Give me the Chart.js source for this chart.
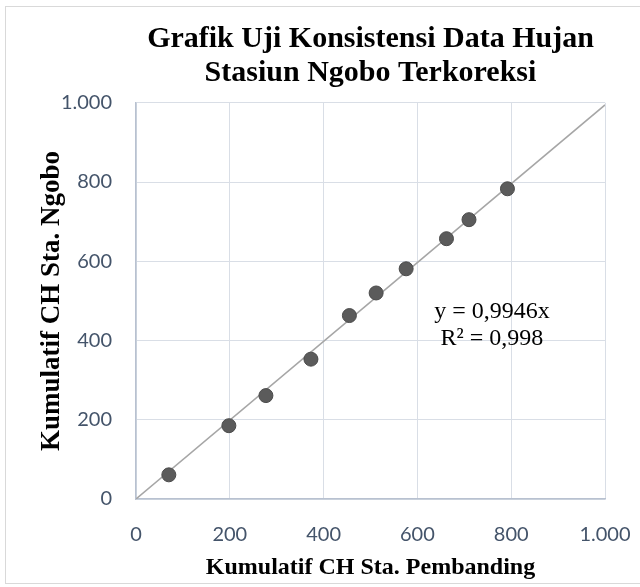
<!DOCTYPE html>
<html>
<head>
<meta charset="utf-8">
<script src="https://cdn.jsdelivr.net/npm/chart.js@4"></script>
<style>
  html, body { margin: 0; padding: 0; background: #fff; }
  #wrap { position: relative; width: 640px; height: 587px; }
  #frame { position: absolute; left: 5px; top: 6px; width: 640px; height: 578px; border: 1px solid #d9d9d9; box-sizing: border-box; pointer-events: none; }
  canvas { position: absolute; left: 0; top: 0; }
</style>
</head>
<body>
<div id="wrap">
  <canvas id="c" width="640" height="587"></canvas>
  <div id="frame"></div>
</div>
<script>
// Data
const titleLines = ['Grafik Uji Konsistensi Data Hujan', 'Stasiun Ngobo Terkoreksi'];
const xAxisTitle = 'Kumulatif CH Sta. Pembanding';
const yAxisTitle = 'Kumulatif CH Sta. Ngobo';
const xValues = [70, 198, 277, 373, 455, 512, 576, 662, 710, 792];
const yValues = [61, 185, 261, 353, 463, 520, 581, 657, 705, 783];
const trendX = [0, 1000];
const trendY = [0, 994.6];
const equationLines = ['y = 0,9946x', 'R² = 0,998'];
const tickValues = [0, 200, 400, 600, 800, 1000];
const tickLabels = ['0', '200', '400', '600', '800', '1.000'];

const pts = xValues.map((x, i) => ({ x, y: yValues[i] }));
const trend = trendX.map((x, i) => ({ x, y: trendY[i] }));

const serif = '"Liberation Serif", "Times New Roman", serif';
const sans = 'Lato, "Open Sans", sans-serif';

const equationPlugin = {
  id: 'equation',
  afterDatasetsDraw(chart) {
    const { ctx, scales } = chart;
    const cx = scales.x.getPixelForValue(759);
    const y1 = scales.y.getPixelForValue(472);
    ctx.save();
    ctx.font = '24px ' + serif;
    ctx.fillStyle = '#000';
    ctx.textAlign = 'center';
    ctx.textBaseline = 'middle';
    ctx.fillText(equationLines[0], cx, y1);
    ctx.fillText(equationLines[1], cx, y1 + 27);
    ctx.restore();
  }
};

const tickFmt = (v) => {
  const i = tickValues.indexOf(v);
  return i >= 0 ? tickLabels[i] : '';
};

new Chart(document.getElementById('c'), {
  type: 'scatter',
  data: {
    datasets: [
      {
        label: 'Data',
        data: pts,
        backgroundColor: '#5b5b5b',
        borderColor: '#4a4a4a',
        borderWidth: 1,
        pointRadius: 7,
        pointHoverRadius: 7,
        order: 0
      },
      {
        label: 'Trend',
        type: 'line',
        data: trend,
        borderColor: '#a6a6a6',
        borderWidth: 1.5,
        pointRadius: 0,
        fill: false,
        order: 1
      }
    ]
  },
  options: {
    responsive: false,
    animation: false,
    events: [],
    layout: { padding: { left: 0, right: 35, top: 0, bottom: 0 } },
    plugins: {
      legend: { display: false },
      tooltip: { enabled: false },
      title: {
        display: true,
        fullSize: false,
        text: titleLines,
        color: '#000',
        font: { family: serif, size: 30, weight: 'bold', lineHeight: 1.13 },
        padding: { top: 22, bottom: 13 }
      }
    },
    scales: {
      x: {
        type: 'linear',
        min: 0, max: 1000,
        afterFit: (s) => { s.height = 88; s.paddingLeft = 0; s.paddingRight = 0; },
        afterBuildTicks: (s) => { s.ticks = tickValues.map(v => ({ value: v })); },
        ticks: { color: '#44546a', font: { family: sans, size: 20 }, padding: 24, callback: tickFmt },
        grid: { color: '#d9dee6', lineWidth: 1, drawTicks: false },
        border: { display: true, color: '#b8c1d0', width: 1.5 },
        title: { display: true, text: xAxisTitle, color: '#000', font: { family: serif, size: 24, weight: 'bold' }, padding: { top: 0, bottom: 5 } }
      },
      y: {
        type: 'linear',
        min: 0, max: 1000,
        afterFit: (s) => { s.width = 136; s.paddingTop = 0; s.paddingBottom = 0; },
        afterBuildTicks: (s) => { s.ticks = tickValues.map(v => ({ value: v })); },
        ticks: { color: '#44546a', font: { family: sans, size: 20 }, padding: 24, callback: tickFmt },
        grid: { color: '#d9dee6', lineWidth: 1, drawTicks: false },
        border: { display: true, color: '#b8c1d0', width: 1.5 },
        title: { display: true, text: yAxisTitle, color: '#000', font: { family: serif, size: 27, weight: 'bold' }, padding: { top: 36, bottom: 0 } }
      }
    }
  },
  plugins: [equationPlugin]
});
</script>
</body>
</html>
